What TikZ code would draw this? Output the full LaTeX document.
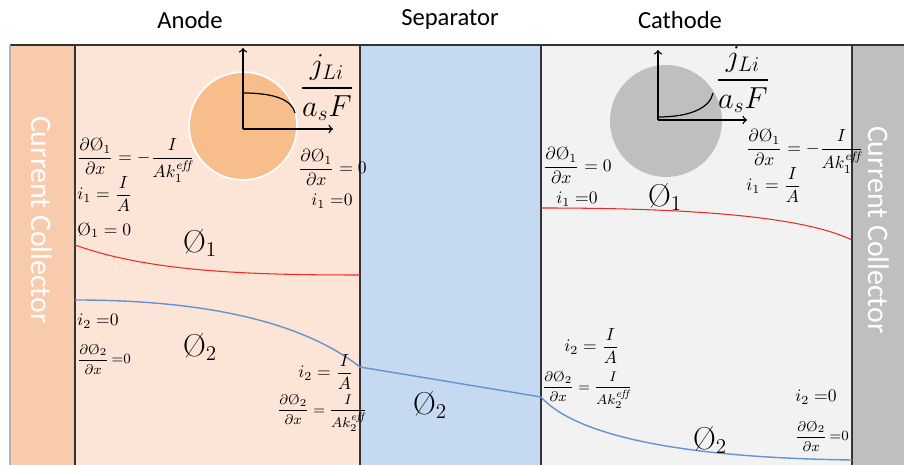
\documentclass[tikz,border=0pt]{standalone}
\usepackage{amsmath}
\usepackage{fontspec}
\newfontfamily\calibri{Carlito}
\newcommand{\Ph}{\mbox{\O}}

\definecolor{anodebg}{RGB}{252,228,214}
\definecolor{anodecc}{RGB}{248,203,173}
\definecolor{anodepart}{RGB}{247,190,140}
\definecolor{sepbg}{RGB}{197,217,241}
\definecolor{cathbg}{RGB}{242,242,242}
\definecolor{cathcc}{RGB}{191,191,191}
\definecolor{phired}{RGB}{240,40,40}
\definecolor{phiblue}{RGB}{100,148,208}

\tikzset{
  title/.style={font=\calibri\fontsize{14}{17}\selectfont},
  collector/.style={font=\calibri\fontsize{17}{20}\selectfont, text=white, rotate=-90},
  eq/.style={font=\fontsize{10}{12}\selectfont, inner sep=0pt, anchor=west},
  eqs/.style={font=\fontsize{8}{10}\selectfont, inner sep=0pt, anchor=west},
  potential/.style={font=\fontsize{18}{20}\selectfont, inner sep=0pt},
  flux/.style={font=\fontsize{18}{22}\selectfont, inner sep=0pt},
  border/.style={line width=0.8pt, black!80},
  axis/.style={->, line width=0.8pt},
}

\begin{document}
\begin{tikzpicture}[x=0.02cm, y=-0.02cm]
  \useasboundingbox[fill=white] (0,0) rectangle (904,465);

  % regions
  \fill[anodecc] (10,45) rectangle (75,465);
  \fill[anodebg] (75,45) rectangle (360,465);
  \fill[sepbg] (360,45) rectangle (541,465);
  \fill[cathbg] (541,45) rectangle (852,465);
  \fill[cathcc] (852,45) rectangle (904,465);

  \draw[border] (10,45) -- (904,45);
  \draw[border, black!30] (10,45) -- (10,465);
  \foreach \xb in {75,360,541,852}
    \draw[border] (\xb,45) -- (\xb,465);

  % titles
  \node[title] (anode) at (190,20) {Anode};
  \node[title] (sep) at (450,20) {Separator};
  \node[title] (cathode) at (680,20) {Cathode};

  \node[collector] (ccleft) at (42,220) {Current Collector};
  \node[collector] (ccright) at (879,230) {Current Collector};

  % particles
  \node[circle, fill=anodepart, draw=white, line width=1pt, minimum size=2.16cm] (pa) at (243,126) {};
  \node[circle, fill=cathcc, minimum size=2.24cm] (pc) at (666,121) {};

  \coordinate (oa) at (243,129);
  \draw[axis] (oa) -- (243,48);
  \draw[axis] (oa) -- (333,129);
  \draw[line width=0.7pt] (243,93) .. controls (275,93) and (292,100) .. (295,113);

  \coordinate (oc) at (658,120);
  \draw[axis] (oc) -- (658,50);
  \draw[axis] (oc) -- (747,120);
  \draw[line width=0.7pt] (658,117) .. controls (690,117) and (710,108) .. (713,93);

  \node[flux] (fa) at (327,88) {$\dfrac{j_{Li}}{a_sF}$};
  \node[flux] (fc) at (743,80) {$\dfrac{j_{Li}}{a_sF}$};

  % potentials
  \draw[phired, line width=0.6pt] (75,245) .. controls (150,272) and (250,275) .. (360,275);
  \draw[phiblue, line width=0.8pt] (75,300) .. controls (200,300) and (300,320) .. (360,367);
  \draw[phiblue, line width=0.8pt] (360,367) -- (541,397);
  \draw[phiblue, line width=0.8pt] (541,397) .. controls (580,440) and (700,458) .. (852,460);
  \draw[phired, line width=0.6pt] (541,208) .. controls (680,208) and (800,215) .. (852,240);

  \node[potential] (pa1) at (200,243) {$\Ph_1$};
  \node[potential] (pa2) at (200,347) {$\Ph_2$};
  \node[potential] (ps2) at (430,405) {$\Ph_2$};
  \node[potential] (pc1) at (665,197) {$\Ph_1$};
  \node[potential] (pc2) at (710,440) {$\Ph_2$};

  % anode conditions
  \node[eq] (a1) at (77,160) {$\dfrac{\partial\Ph_1}{\partial x}=-\dfrac{I}{Ak_1^{\mathit{eff}}}$};
  \node[eq] (a2) at (77,194) {$i_1=\dfrac{I}{A}$};
  \node[eq] (a3) at (77,230) {$\Ph_1=0$};
  \node[eq] (a4) at (298,167) {$\dfrac{\partial\Ph_1}{\partial x}=0$};
  \node[eq] (a5) at (311,201) {$i_1\;{=}0$};
  \node[eq] (a6) at (77,321) {$i_2\;{=}0$};
  \node[eqs] (a7) at (77,359) {$\dfrac{\partial\Ph_2}{\partial x}\,{=}0$};
  \node[eq] (a8) at (298,372) {$i_2=\dfrac{I}{A}$};
  \node[eqs] (a9) at (277,413) {$\dfrac{\partial\Ph_2}{\partial x}=\dfrac{I}{Ak_2^{\mathit{eff}}}$};

  % cathode conditions
  \node[eq] (c1) at (543,165) {$\dfrac{\partial\Ph_1}{\partial x}=0$};
  \node[eq] (c2) at (556,199) {$i_1\;{=}0$};
  \node[eq] (c3) at (746,151) {$\dfrac{\partial\Ph_1}{\partial x}=-\dfrac{I}{Ak_1^{\mathit{eff}}}$};
  \node[eq] (c4) at (746,185) {$i_1=\dfrac{I}{A}$};
  \node[eq] (c5) at (564,346) {$i_2=\dfrac{I}{A}$};
  \node[eqs] (c6) at (542,390) {$\dfrac{\partial\Ph_2}{\partial x}=\dfrac{I}{Ak_2^{\mathit{eff}}}$};
  \node[eq] (c7) at (795,397) {$i_2\;{=}0$};
  \node[eqs] (c8) at (795,436) {$\dfrac{\partial\Ph_2}{\partial x}\,{=}0$};
\end{tikzpicture}
\end{document}
